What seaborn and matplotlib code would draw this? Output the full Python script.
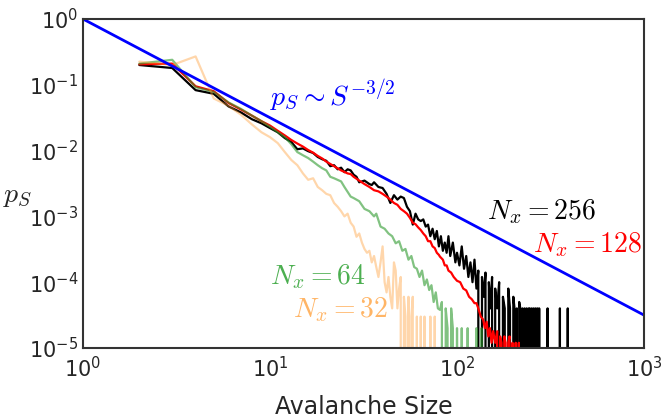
import numpy as np
import pandas as pd
import matplotlib
matplotlib.use("Agg")
import matplotlib.pyplot as plt
import seaborn as sns

# avalanche size distributions (0 = no events in that bin)
size_256 = [2, 3, 4, 5, 6, 7, 8, 9, 10, 11, 12, 13, 14, 15, 16, 17, 18, 19, 20, 21, 22, 23, 24, 25, 26, 27, 28, 29, 30,
            32, 34, 35, 36, 38, 40, 42, 44, 46, 48, 50, 52, 54, 56, 58, 60, 62, 64, 66, 68, 70, 72, 74, 76, 78, 80,
            82, 84, 86, 88, 90, 92, 95, 98, 100, 103, 106, 109, 112, 115, 118, 121, 124, 127, 130, 133, 136, 139,
            142, 145, 148, 151, 154, 157, 160, 164, 168, 172, 176, 180, 184, 188, 192, 196, 200, 203, 206, 209,
            212, 215, 218, 221, 224, 227, 230, 233, 236, 239, 242, 245, 248, 251, 254, 257, 260, 263, 266, 269,
            272, 275, 278, 304, 305, 306, 354, 355, 356, 390, 391, 392]
p_256 = [0.200, 0.180, 0.083, 0.073, 0.047, 0.038, 0.030, 0.026, 0.022, 0.019, 0.0155, 0.0135, 0.0105, 0.0108,
         0.0098, 0.0092, 0.0080, 0.0074, 0.0070, 0.0058, 0.0060, 0.0052, 0.0055, 0.0047, 0.0052, 0.0050, 0.0043,
         0.0040, 0.0033, 0.0035, 0.0031, 0.0030, 0.0033, 0.0028, 0.0027, 0.0022, 0.0016, 0.0021, 0.0018, 0.0020,
         0.0019, 0.0014, 0.0012, 0.00075, 0.0011, 0.0009, 0.00085, 0.0009, 0.0007, 0.00075, 0.0005, 0.00065,
         0.00045, 0.0006, 0.00035, 0.0005, 0.0003, 0.0004, 0.00028, 0.0005, 0.00025, 0.0004, 0.0002, 0.00028,
         0.00018, 0.00035, 0.00016, 0.00025, 0.00012, 0.0002, 0.0001, 0.00022, 0.00008, 0.00015, 0.0, 0.00012,
         0.00006, 0.00014, 0.0, 0.0001, 0.00004, 0.00012, 0.0, 0.00008, 0.00004, 0.0001, 0.0, 0.00006, 0.00004,
         0.0, 0.00008, 0.00004, 0.0, 0.00006, 0.00004, 0.0, 0.00004, 0.0, 0.00005, 0.00004, 0.0, 0.00004, 0.0,
         0.00004, 0.0, 0.00004, 0.0, 0.00004, 0.00004, 0.0, 0.00004, 0.0, 0.00004, 0.0, 0.00004, 0.0, 0.00004,
         0.0, 0.00004, 0.0, 0.0, 0.00004, 0.0, 0.0, 0.00004, 0.0, 0.0, 0.00004, 0.0]

size_128 = [2, 3, 4, 5, 6, 7, 8, 9, 10, 11, 12, 13, 14, 15, 16, 17, 18, 19, 20, 22, 24, 26, 27, 28, 30, 32, 34, 36,
            38, 40, 42, 44, 46, 48, 50, 52, 54, 56, 58, 60, 62, 64, 66, 68, 70, 72, 74, 76, 78, 80, 81, 84, 86, 88,
            90, 93, 96, 100, 104, 108, 112, 116, 120, 124, 127, 130, 134, 138, 141, 144, 147, 150, 153, 156, 160,
            164, 167, 170, 173, 176, 179, 182, 185, 188, 191, 194, 198, 202, 206, 210, 214, 218]
p_128 = [0.205, 0.210, 0.095, 0.080, 0.053, 0.042, 0.034, 0.028, 0.024, 0.020, 0.017, 0.0145, 0.0128, 0.0115,
         0.0102, 0.0093, 0.0083, 0.0076, 0.0068, 0.0058, 0.0050, 0.0045, 0.0044, 0.0040, 0.0035, 0.0031, 0.0028,
         0.0025, 0.0024, 0.0022, 0.0020, 0.0018, 0.0016, 0.0015, 0.0013, 0.0012, 0.0011, 0.00095, 0.0008,
         0.00076, 0.00068, 0.00062, 0.00055, 0.0005, 0.00042, 0.00042, 0.00035, 0.00033, 0.00028, 0.00026,
         0.000245, 0.00022, 0.00018, 0.00018, 0.00015, 0.00014, 0.00012, 0.000105, 0.0001, 0.00008, 0.000075,
         0.00006, 0.000055, 0.000048, 0.000048, 0.00004, 0.00003, 0.000027, 0.00002, 0.000025, 0.000015,
         0.00002, 0.000012, 0.000018, 0.000012, 0.000018, 0.0, 0.000015, 0.000012, 0.0, 0.000015, 0.000012, 0.0,
         0.000012, 0.000015, 0.0, 0.000012, 0.0, 0.000012, 0.0, 0.000012, 0.0]

size_64 = [2, 3, 4, 5, 6, 7, 8, 9, 10, 11, 12, 13, 14, 15, 16, 17, 18, 19, 20, 21, 22, 24, 25, 27, 28, 30, 32, 34,
           36, 37, 39, 41, 43, 45, 47, 49, 51, 53, 55, 57, 59, 61, 63, 65, 67, 69, 71, 73, 75, 77, 79, 81, 83, 85,
           87, 89, 91, 93, 95, 97, 100, 103, 106, 110, 114, 118, 126, 127, 128, 134, 135, 136]
p_64 = [0.210, 0.240, 0.092, 0.078, 0.054, 0.043, 0.034, 0.028, 0.023, 0.019, 0.016, 0.0125, 0.0095, 0.0085,
        0.0077, 0.0068, 0.0060, 0.0054, 0.0050, 0.0040, 0.0038, 0.0034, 0.0028, 0.0020, 0.0019, 0.0017, 0.0013,
        0.0012, 0.0010, 0.0011, 0.0007, 0.00065, 0.00055, 0.0005, 0.00039, 0.00042, 0.0003, 0.00032, 0.00022,
        0.00025, 0.00017, 0.00016, 0.00012, 0.00015, 0.00009, 0.00011, 0.000076, 0.00009, 0.00005, 0.00007,
        0.00004, 0.000038, 0.00005, 0.0, 0.00004, 0.00002, 0.0, 0.00004, 0.00002, 0.0, 0.00002, 0.0, 0.00002,
        0.0, 0.00002, 0.0, 0.0, 0.00002, 0.0, 0.0, 0.00002, 0.0]

size_32 = [2, 3, 4, 5, 6, 7, 8, 9, 10, 11, 12, 13, 14, 15, 16, 17, 18, 19, 20, 21, 22, 23, 24, 25, 26, 27, 28, 29,
           30, 31, 32, 33, 34, 35, 36, 37, 38, 39, 40, 41, 42, 43, 44, 45, 46, 47, 48, 49, 50, 51, 52, 53, 54, 55,
           56, 57, 58, 59, 61, 62, 64, 65, 67, 68, 72, 73, 76, 77]
p_32 = [0.225, 0.200, 0.270, 0.062, 0.048, 0.035, 0.025, 0.019, 0.016, 0.013, 0.0095, 0.0072, 0.0060, 0.0045,
        0.0036, 0.0038, 0.0028, 0.0025, 0.0022, 0.0021, 0.0016, 0.0014, 0.0012, 0.0010, 0.0011, 0.0008, 0.0007,
        0.00049, 0.00055, 0.0004, 0.00032, 0.00028, 0.0003, 0.0002, 0.00025, 0.00017, 0.00012, 0.0002, 0.00035,
        0.0001, 0.00007, 0.00012, 0.00006, 0.00004, 0.0002, 0.00015, 0.00004, 0.00008, 0.00012, 0.0, 0.00006,
        0.00003, 0.0, 0.00006, 0.0, 0.00003, 0.00006, 0.0, 0.00003, 0.0, 0.00003, 0.0, 0.00003, 0.0, 0.00003,
        0.0, 0.00003, 0.0]

# reference power law p_S ~ S^(-3/2)
size_fit = [1, 1000]
p_fit = [1.0, 3.16e-5]

sns.set_style("white")
plt.rcParams['mathtext.fontset'] = 'cm'
plt.rcParams['font.family'] = ['DejaVu Sans']

fig = plt.figure(figsize=(6.61, 4.18), dpi=100)
ax = fig.add_axes([0.1256, 0.1675, 0.8487, 0.787])

series = [
    (size_256, p_256, 'black', 1.6, 1.0),
    (size_128, p_128, 'red', 1.6, 1.0),
    (size_64, p_64, '#2e9a2e', 1.6, 0.6),
    (size_32, p_32, '#ff9a2e', 1.6, 0.4),
]
for sizes, probs, col, lw, alpha in series:
    df = pd.DataFrame({'size': sizes, 'p': probs})
    sns.lineplot(data=df, x='size', y='p', color=col, lw=lw, alpha=alpha,
                 estimator=None, sort=False, ax=ax)

sns.lineplot(x=size_fit, y=p_fit, color='blue', lw=2, estimator=None, ax=ax)

ax.set_xscale('log')
ax.set_yscale('log', nonpositive='clip')
ax.set_xlim(1, 1000)
ax.set_ylim(1e-5, 1)

ax.text(10, 0.068, r'$p_S\sim S^{-3/2}$', color='blue', fontsize=20, va='center')
ax.text(145, 1.2e-3, r'$N_x=256$', color='black', fontsize=20, va='center')
ax.text(256, 3.7e-4, r'$N_x=128$', color='red', fontsize=20, va='center')
ax.text(10, 1.2e-4, r'$N_x=64$', color='#4caf50', fontsize=20, va='center')
ax.text(13.3, 3.8e-5, r'$N_x=32$', color='#ffb566', fontsize=20, va='center')

ax.set_xlabel('Avalanche Size', fontsize=17, labelpad=10)
ax.set_ylabel(r'$p_S$', fontsize=20, rotation=0, ha='center', va='center')
ax.yaxis.set_label_coords(-0.116, 0.465)

ax.tick_params(which='both', direction='in', labelsize=15, color='#333333')
ax.tick_params(which='major', length=7, width=1)
ax.tick_params(which='minor', length=4, width=0.8)
ax.tick_params(axis='x', pad=6)
for s in ax.spines.values():
    s.set_color('#333333')
    s.set_linewidth(1.5)

fig.savefig('out.png', dpi=100)
